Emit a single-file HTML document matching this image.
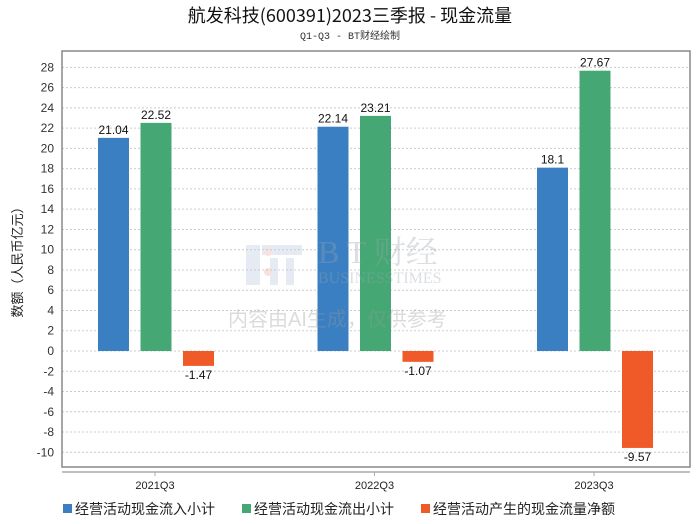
<!DOCTYPE html>
<html><head><meta charset="utf-8"><style>
body{margin:0;background:#fff;}
svg{display:block;font-family:"Liberation Sans","Noto Sans CJK SC",sans-serif;}
</style></head><body>
<svg id="chart" width="700" height="524" viewBox="0 0 700 524">
<text x="350" y="22" text-anchor="middle" font-size="18" fill="#111" font-family="Noto Sans CJK SC, sans-serif">航发科技(600391)2023三季报 - 现金流量</text>
<text x="350" y="39" text-anchor="middle" font-size="10" fill="#333" font-family="Liberation Mono, Noto Sans CJK SC, monospace">Q1-Q3 - BT财经绘制</text>
<g id="grid"></g>
<rect x="62" y="51" width="628" height="416" fill="none" stroke="#888" stroke-width="1.5"/>
<line x1="62" y1="472" x2="690" y2="472" stroke="#aaa" stroke-width="1.5"/>
<g id="bars"></g>
<g opacity="0.35">
<rect x="246" y="245" width="14" height="40" fill="#b8c8de"/><rect x="262" y="245" width="40" height="10" fill="#b8c8de"/><rect x="270" y="258" width="8" height="27" fill="#b8c8de"/><rect x="286" y="258" width="8" height="27" fill="#b8c8de"/>
<circle cx="268" cy="252" r="4" fill="#eeaaaa"/><circle cx="268" cy="272" r="4" fill="#eeaaaa"/>
<text x="318" y="263" font-size="32" font-family="Liberation Serif, Noto Serif CJK SC, serif" fill="#9aa3b0">B T 财经</text>
<text x="318" y="283" font-size="16" font-family="Liberation Serif, serif" fill="#9aa3b0">BUSINESSTIMES</text>
<text x="228" y="326" font-size="20" fill="#999">内容由AI生成，仅供参考</text>
</g>
<text transform="translate(22,259) rotate(-90)" text-anchor="middle" font-size="13" fill="#222">数额（人民币亿元）</text>
<g font-size="14" fill="#222" font-family="Noto Sans CJK SC, sans-serif">
<rect x="63" y="504" width="9" height="9" fill="#3a7fc1"/>
<text x="75" y="514">经营活动现金流入小计</text>
<rect x="242" y="504" width="9" height="9" fill="#45a874"/>
<text x="254" y="514">经营活动现金流出小计</text>
<rect x="421" y="504" width="9" height="9" fill="#f05a28"/>
<text x="433" y="514">经营活动产生的现金流量净额</text>
</g>
</svg>
<script>
const categories = ["2021Q3","2022Q3","2023Q3"];
const inflow = [21.04, 22.14, 18.1];
const outflow = [22.52, 23.21, 27.67];
const netflow = [-1.47, -1.07, -9.57];
const yTicks = [28,26,24,22,20,18,16,14,12,10,8,6,4,2,0,-2,-4,-6,-8,-10];
const NS="http://www.w3.org/2000/svg";
function yScale(v){return 351 - v*10.13;}
function xCenter(i){return 155 + i*219.5;}
const grid=document.getElementById('grid');
yTicks.forEach(t=>{
  const y=yScale(t);
  const l=document.createElementNS(NS,'line');
  l.setAttribute('x1',62);l.setAttribute('x2',690);l.setAttribute('y1',y);l.setAttribute('y2',y);
  l.setAttribute('stroke','#ccc');l.setAttribute('stroke-dasharray','2,2');
  
  
  grid.appendChild(l);
  const tx=document.createElementNS(NS,'text');
  tx.setAttribute('x',54);tx.setAttribute('y',y+4);tx.setAttribute('text-anchor','end');
  tx.setAttribute('font-size','12');tx.setAttribute('fill','#333');tx.textContent=t;
  
  
  grid.appendChild(tx);
});
const bars=document.getElementById('bars');
const series=[[inflow,'#3a7fc1','inflow'],[outflow,'#45a874','outflow'],[netflow,'#f05a28','net']];
categories.forEach((c,i)=>{
  const cx=xCenter(i);
  const tk=document.createElementNS(NS,'line');
  tk.setAttribute('x1',cx);tk.setAttribute('x2',cx);tk.setAttribute('y1',472);tk.setAttribute('y2',476);tk.setAttribute('stroke','#aaa');
  
  
  bars.appendChild(tk);
  const lb=document.createElementNS(NS,'text');
  lb.setAttribute('x',cx);lb.setAttribute('y',489);lb.setAttribute('text-anchor','middle');lb.setAttribute('font-size','11');lb.setAttribute('fill','#222');
  lb.textContent=c;
  
  
  bars.appendChild(lb);
  series.forEach((s,j)=>{
    const v=s[0][i];
    const x=cx-57+j*42.5;
    const y0=yScale(0), y1=yScale(v);
    const r=document.createElementNS(NS,'rect');
    r.setAttribute('x',x);r.setAttribute('width',31);
    r.setAttribute('y',Math.min(y0,y1));r.setAttribute('height',Math.abs(y1-y0));
    r.setAttribute('fill',s[1]);
    
    
    bars.appendChild(r);
    const t=document.createElementNS(NS,'text');
    t.setAttribute('x',x+15.5);
    t.setAttribute('y',v>=0?y1-4:y1+13);
    t.setAttribute('text-anchor','middle');t.setAttribute('font-size','12');t.setAttribute('fill','#111');
    t.textContent=v;
    
    
    bars.appendChild(t);
  });
});
</script>
</body></html>
